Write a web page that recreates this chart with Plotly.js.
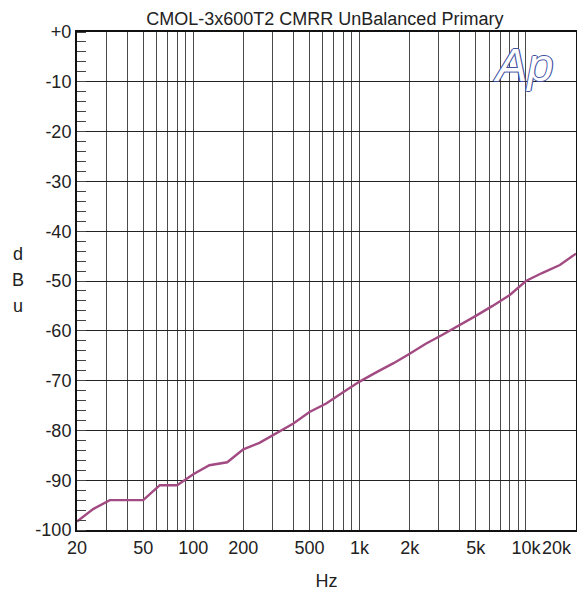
<!DOCTYPE html>
<html>
<head>
<meta charset="utf-8">
<script src="https://cdn.plot.ly/plotly-3.0.1.min.js"></script>
<style>html,body{margin:0;padding:0;background:#fff;}#chart{width:577px;height:592px;}</style>
</head>
<body>
<div id="chart"></div>
<script>
var freqHz = [20, 25, 31.5, 40, 50, 63, 80, 100, 125, 160, 200, 250, 315, 400, 500, 630, 800, 1000, 1250, 1600, 2000, 2500, 3150, 4000, 5000, 6300, 8000, 10000, 12500, 16000, 20000];
var cmrrDbu = [-98.3, -95.8, -94.0, -94.0, -94.0, -91.0, -91.0, -88.8, -87.0, -86.4, -83.8, -82.5, -80.6, -78.6, -76.3, -74.6, -72.3, -70.2, -68.4, -66.5, -64.6, -62.6, -60.8, -58.9, -57.0, -55.0, -52.8, -50.0, -48.4, -46.8, -44.5];

var xGridVals = [20, 30, 40, 50, 60, 70, 80, 90, 100, 200, 300, 400, 500, 600, 700, 800, 900, 1000, 2000, 3000, 4000, 5000, 6000, 7000, 8000, 9000, 10000, 20000];
var xGridText = ['20', '', '', '50', '', '', '', '', '100', '200', '', '', '500', '', '', '', '', '1k', '2k', '', '', '5k', '', '', '', '', '10k', ''];
var yTickVals = [0, -10, -20, -30, -40, -50, -60, -70, -80, -90, -100];
var yTickText = ['+0', '-10', '-20', '-30', '-40', '-50', '-60', '-70', '-80', '-90', '-100'];
var yTitleLetters = ['d', 'B', 'u'];
var titleText = 'CMOL-3x600T2 CMRR UnBalanced Primary';
var lastXLabel = '20k';

var fontFam = 'Liberation Sans, Arial, sans-serif';
var fs = 18;
var txt = '#222';
var logoBlue = '#4353a3';

var trace = {
  x: freqHz, y: cmrrDbu, type: 'scatter', mode: 'lines',
  line: {color: '#a24a82', width: 2.4}, hoverinfo: 'skip'
};

var annotations = yTitleLetters.map(function (ch, i) {
  return {xref: 'paper', yref: 'paper', x: -0.118, y: 0.503, xanchor: 'center', yanchor: 'middle',
    yshift: 26 - i * 26, text: ch, showarrow: false,
    font: {family: fontFam, size: fs, color: txt}};
});
annotations.push({xref: 'x', yref: 'paper', x: Math.log10(20000), y: 0, xanchor: 'right', yanchor: 'top',
  xshift: -2, yshift: -6, text: lastXLabel, showarrow: false,
  font: {family: fontFam, size: fs, color: txt}});
annotations.push({xref: 'paper', yref: 'paper', x: 0.895, y: 0.935, xanchor: 'center', yanchor: 'middle',
  text: 'Ap', showarrow: false,
  font: {family: fontFam, size: 47, color: '#ffffff', style: 'italic',
    shadow: '1.2px 0 0 ' + logoBlue + ', -1.2px 0 0 ' + logoBlue + ', 0 1.2px 0 ' + logoBlue + ', 0 -1.2px 0 ' + logoBlue}});

var layout = {
  width: 577, height: 592,
  margin: {l: 77, r: 1, t: 32, b: 62},
  paper_bgcolor: '#fff', plot_bgcolor: '#fff',
  showlegend: false,
  font: {family: fontFam, size: fs, color: txt},
  title: {text: titleText, font: {family: fontFam, size: fs, color: txt}, x: 0.563, xanchor: 'center', y: 0.969, yanchor: 'middle'},
  xaxis: {
    type: 'log', range: [Math.log10(20), Math.log10(20000)],
    tickmode: 'array', tickvals: xGridVals, ticktext: xGridText,
    showgrid: true, gridcolor: '#4a4a4a', gridwidth: 1,
    ticks: '', showline: true, mirror: true, linecolor: '#111', linewidth: 2,
    zeroline: false, tickfont: {family: fontFam, size: fs, color: txt},
    title: {text: 'Hz', font: {family: fontFam, size: fs, color: txt}, standoff: 18}
  },
  yaxis: {
    range: [-100, 0],
    tickmode: 'array', tickvals: yTickVals, ticktext: yTickText,
    showgrid: true, gridcolor: '#222', gridwidth: 1,
    ticks: '', showline: true, mirror: true, linecolor: '#111', linewidth: 2,
    zeroline: false, tickfont: {family: fontFam, size: fs, color: txt},
    minor: {dtick: 2, tick0: 0, ticks: 'inside', ticklen: 9, tickcolor: '#444', tickwidth: 1, showgrid: false}
  },
  annotations: annotations
};

Plotly.newPlot('chart', [trace], layout, {displayModeBar: false, staticPlot: true});
</script>
</body>
</html>
